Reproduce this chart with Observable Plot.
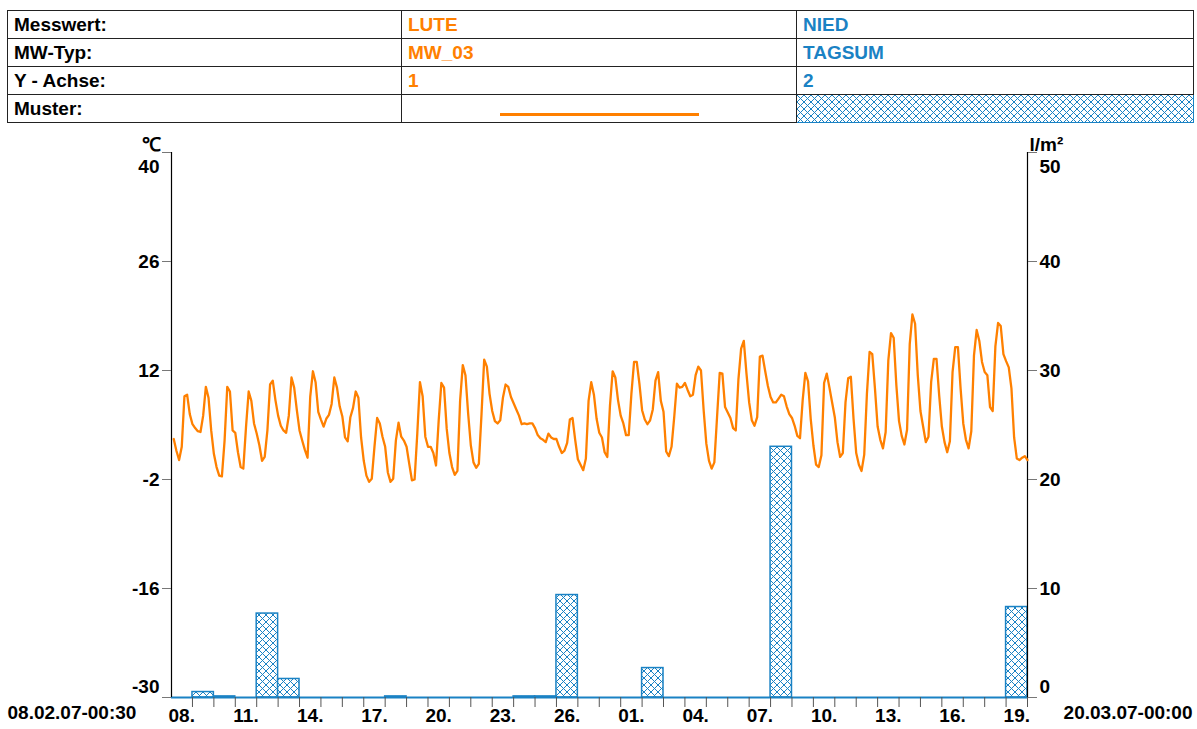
<!DOCTYPE html>
<html>
<head>
<meta charset="utf-8">
<script src="https://cdn.jsdelivr.net/npm/d3@7"></script>
<script src="https://cdn.jsdelivr.net/npm/@observablehq/plot@0.6"></script>
<style>
  html, body { margin: 0; padding: 0; background: #fff; }
  body { width: 1197px; height: 729px; position: relative; overflow: hidden; font-family: "Liberation Sans", Arial, sans-serif; }
  #hdr { position: absolute; left: 7px; top: 10px; border-collapse: collapse; table-layout: fixed; width: 1186px; }
  #hdr td { height: 27px; border: 1px solid #222; padding: 0 0 0 6px; font-weight: bold; font-size: 19px; line-height: 27px; white-space: nowrap; overflow: hidden; }
  #hdr td.o { color: #ff8000; }
  #hdr td.b { color: #1a82c4; }
  #hdr td.pat { padding: 0; border: 1px solid #1a82c4; }
  #chart { position: absolute; left: 0; top: 125px; width: 1197px; height: 604px; }
  #chart svg { position: absolute; left: 0; top: 0; }
</style>
</head>
<body>
<table id="hdr"></table>
<div id="chart"></div>
<script>
// ---------------- data ----------------
const headerLabels = ["Messwert:", "MW-Typ:", "Y - Achse:", "Muster:"];
const seriesTemp = ["LUTE", "MW_03", "1"];
const seriesPrecip = ["NIED", "TAGSUM", "2"];

const axisStartLabel = "08.02.07-00:30";
const axisEndLabel = "20.03.07-00:00";
const tempUnit = "\u2103";
const precipUnit = "l/m\u00b2";

const tempTicks = [-30, -16, -2, 12, 26, 40];
const precipTicks = [0, 10, 20, 30, 40, 50];

// air temperature, 3-hourly values starting 08.02.2007 03:00
const tempStartUTC = [2007, 1, 8, 3];
const tempStepHours = 3;
const temps = [
  3.2, 1.7, 0.5, 2.2, 8.7, 8.9, 6.4, 5.1, 4.6, 4.2,
  4.1, 6.2, 9.9, 8.5, 4.3, 1.3, -0.4, -1.5, -1.6, 3.0,
  9.9, 9.3, 4.3, 4.0, 1.5, -0.4, -0.6, 4.7, 9.3, 8.1,
  5.2, 3.9, 2.4, 0.4, 0.9, 4.3, 10.2, 10.7, 8.2, 6.2,
  4.9, 4.3, 4.0, 6.2, 11.1, 9.8, 6.9, 4.3, 3.0, 1.8,
  0.8, 8.6, 11.9, 10.5, 6.7, 5.7, 4.8, 5.8, 6.3, 7.7,
  11.1, 9.8, 7.4, 6.1, 3.4, 2.9, 6.0, 7.2, 9.3, 8.5,
  3.4, 0.4, -1.5, -2.3, -1.9, 2.2, 5.9, 5.2, 3.5, 2.2,
  -1.1, -2.3, -1.9, 3.0, 5.3, 3.5, 3.0, 2.2, 0.0, -2.1,
  -2.0, 3.9, 10.5, 8.7, 3.5, 2.2, 2.2, 1.4, -0.2, 5.6,
  10.4, 9.8, 4.5, 1.4, -0.4, -1.4, -0.9, 8.1, 12.7, 11.4,
  6.5, 2.4, 0.2, -0.5, 0.0, 6.4, 13.4, 12.5, 9.0, 6.8,
  5.5, 5.2, 5.6, 8.5, 10.2, 9.9, 8.6, 7.8, 7.0, 6.2,
  5.1, 5.2, 5.1, 5.2, 5.2, 4.6, 3.7, 3.3, 3.1, 2.8,
  3.9, 3.4, 3.2, 3.2, 2.2, 1.4, 1.7, 2.7, 5.7, 5.9,
  3.1, 0.6, -0.1, -0.8, 0.7, 8.1, 10.5, 8.9, 5.8, 4.0,
  3.4, 1.5, 0.9, 7.5, 11.9, 11.1, 8.2, 6.2, 5.2, 3.7,
  3.7, 9.0, 13.1, 13.1, 10.3, 6.9, 5.7, 5.1, 5.6, 7.0,
  10.7, 11.8, 8.1, 6.7, 1.6, 1.0, 2.2, 6.0, 10.3, 9.8,
  9.9, 10.4, 9.5, 8.7, 8.9, 11.4, 12.5, 12.0, 6.9, 2.6,
  0.4, -0.6, 0.2, 6.0, 11.7, 11.6, 7.3, 6.6, 5.9, 4.6,
  4.3, 10.9, 14.8, 15.8, 11.6, 7.9, 5.6, 4.9, 6.0, 13.8,
  13.9, 11.9, 10.0, 8.6, 7.9, 7.9, 8.4, 8.9, 8.7, 7.4,
  6.4, 5.9, 4.9, 3.6, 3.3, 8.2, 11.7, 10.6, 5.8, 2.4,
  -0.1, -0.4, 1.1, 10.4, 11.6, 9.8, 7.9, 6.0, 2.8, 0.9,
  1.4, 7.9, 11.0, 11.2, 5.8, 1.4, -0.1, -0.9, 1.2, 9.0,
  14.4, 14.1, 9.7, 4.8, 3.1, 2.0, 4.1, 13.3, 16.8, 16.2,
  10.1, 5.5, 3.6, 2.5, 4.4, 15.4, 19.2, 18.0, 11.4, 6.8,
  4.8, 2.8, 3.5, 10.5, 13.5, 13.5, 8.8, 4.8, 2.8, 1.5,
  2.9, 11.8, 15.0, 15.0, 9.7, 5.2, 3.1, 2.0, 4.2, 13.9,
  17.2, 15.8, 13.1, 11.8, 11.4, 7.3, 6.8, 15.1, 18.1, 17.7,
  14.1, 13.2, 12.4, 9.7, 3.4, 0.7, 0.5, 0.8, 1.0, 0.5
];

// daily precipitation sums, one per day starting 08.02.2007
const precipStartUTC = [2007, 1, 8];
const precip = [
  0, 0.5, 0.1, 0, 7.7, 1.7, 0, 0, 0, 0,
  0.1, 0, 0, 0, 0, 0, 0.1, 0.1, 9.4, 0,
  0, 0, 2.7, 0, 0, 0, 0, 0, 23.0, 0,
  0, 0, 0, 0, 0, 0, 0, 0, 0, 8.3
];

// ---------------- styles ----------------
const ORANGE = "#ff8000";
const BLUE = "#1a82c4";
const FONT = "'Liberation Sans', Arial, sans-serif";

// ---------------- header table ----------------
const hdr = d3.select("#hdr");
const cg = hdr.append("colgroup");
cg.append("col").style("width", "394px");
cg.append("col").style("width", "395px");
cg.append("col").style("width", "397px");
for (let i = 0; i < 3; i++) {
  const tr = hdr.append("tr");
  tr.append("td").text(headerLabels[i]);
  tr.append("td").attr("class", "o").text(seriesTemp[i]);
  tr.append("td").attr("class", "b").text(seriesPrecip[i]);
}
{
  const tr = hdr.append("tr");
  tr.append("td").text(headerLabels[3]);
  tr.append("td").style("padding", "0").html(
    `<div style="width:199px;height:3px;background:${ORANGE};margin:12px auto 0 auto;"></div>`);
  tr.append("td").attr("class", "pat").html(
    `<svg width="100%" height="27" style="display:block">
      <defs><pattern id="hatch2" patternUnits="userSpaceOnUse" width="7" height="7">
        <rect width="7" height="7" fill="#fff"/>
        <path d="M0,0L7,7M7,0L0,7" stroke="${BLUE}" stroke-width="1"/>
      </pattern></defs>
      <rect width="100%" height="27" fill="url(#hatch2)"/>
    </svg>`);
}

// ---------------- chart data rows ----------------
const HOUR = 3600 * 1000;
const t0 = Date.UTC(...tempStartUTC);
const tempRows = temps.map((v, k) => ({ t: new Date(t0 + k * tempStepHours * HOUR), v }));
const p0 = Date.UTC(...precipStartUTC);
const precipRows = precip.map((v, i) => ({
  start: new Date(p0 + i * 24 * HOUR),
  end: new Date(p0 + (i + 1) * 24 * HOUR),
  v
}));

const xDomain = [new Date(Date.UTC(2007, 1, 8, 0, 30)), new Date(Date.UTC(2007, 2, 20, 0, 0))];
const dayTicks = d3.utcDay.range(d3.utcDay.ceil(xDomain[0]), d3.utcDay.offset(xDomain[1], 1));
const labelDays = d3.utcDay.range(d3.utcDay.floor(xDomain[0]), xDomain[1])
  .filter((d, i) => i % 3 === 0)
  .map(d => d3.utcHour.offset(d, 12));

const W = 1197, H = 604;
const dims = { width: W, height: H, marginTop: 27, marginBottom: 32, marginLeft: 171, marginRight: 170 };
const style = { fontFamily: FONT, fontSize: "19px", fontWeight: "bold", color: "#000", background: "transparent", overflow: "visible" };
const num = d => String(d);

// ---- precipitation (right axis), drawn behind ----
const pPlot = Plot.plot({
  ...dims, style,
  x: { type: "utc", domain: xDomain, axis: null },
  y: { domain: [0, 50], axis: null },
  marks: [
    Plot.rectY(precipRows.filter(d => d.v > 0), { x1: "start", x2: "end", y: "v", fill: "url(#hatch)", stroke: BLUE, strokeWidth: 1.5, clip: true }),
    Plot.ruleY([0], { stroke: BLUE, strokeWidth: 2 }),
    Plot.ruleX([xDomain[1]], { y1: 0, y2: 50, stroke: "#000", strokeWidth: 1.2 }),
    Plot.axisY(precipTicks, { anchor: "right", label: null, tickSize: 9, tickFormat: () => "", stroke: "#777" }),
    Plot.axisY(precipTicks.slice(1, -1), { anchor: "right", label: null, tickSize: 0, tickPadding: 12, tickFormat: num }),
    Plot.axisY([precipTicks[precipTicks.length - 1]], { anchor: "right", label: null, tickSize: 0, tickPadding: 12, dy: 14, tickFormat: num }),
    Plot.axisY([precipTicks[0]], { anchor: "right", label: null, tickSize: 0, tickPadding: 12, dy: -11, tickFormat: num }),
    Plot.text([precipUnit], { text: d => d, frameAnchor: "top-right", textAnchor: "start", dx: 2, dy: -15 }),
    Plot.text([axisEndLabel], { text: d => d, frameAnchor: "bottom-right", textAnchor: "end", dx: 165, dy: 21 })
  ]
});
{
  const svg = d3.select(pPlot);
  const defs = svg.insert("defs", ":first-child");
  const pat = defs.append("pattern").attr("id", "hatch").attr("patternUnits", "userSpaceOnUse")
    .attr("width", 7).attr("height", 7);
  pat.append("rect").attr("width", 7).attr("height", 7).attr("fill", "#fff");
  pat.append("path").attr("d", "M0,0L7,7M7,0L0,7").attr("stroke", BLUE).attr("stroke-width", 1);
}

// ---- temperature (left axis) + x axis, drawn on top ----
const tPlot = Plot.plot({
  ...dims, style,
  x: { type: "utc", domain: xDomain, axis: null },
  y: { domain: [-30, 40], axis: null },
  marks: [
    Plot.line(tempRows, { x: "t", y: "v", stroke: ORANGE, strokeWidth: 2.3 }),
    Plot.ruleX([xDomain[0]], { y1: -30, y2: 40, stroke: "#000", strokeWidth: 1.2 }),
    Plot.axisY(tempTicks, { anchor: "left", label: null, tickSize: 9, tickFormat: () => "", stroke: "#777" }),
    Plot.axisY(tempTicks.slice(1, -1), { anchor: "left", label: null, tickSize: 0, tickPadding: 12, tickFormat: num }),
    Plot.axisY([tempTicks[tempTicks.length - 1]], { anchor: "left", label: null, tickSize: 0, tickPadding: 12, dy: 14, tickFormat: num }),
    Plot.axisY([tempTicks[0]], { anchor: "left", label: null, tickSize: 0, tickPadding: 12, dy: -11, tickFormat: num }),
    Plot.axisX(dayTicks, { anchor: "bottom", label: null, tickSize: 10, tickFormat: () => "", stroke: "#555" }),
    Plot.axisX(labelDays, { anchor: "bottom", label: null, tickSize: 0, tickPadding: 11, tickFormat: d3.utcFormat("%d.") }),
    Plot.text([tempUnit], { text: d => d, frameAnchor: "top-left", textAnchor: "end", dx: -11, dy: -15 }),
    Plot.text([axisStartLabel], { text: d => d, frameAnchor: "bottom-left", textAnchor: "start", dx: -164, dy: 21 })
  ]
});

document.getElementById("chart").append(pPlot, tPlot);
</script>
</body>
</html>
